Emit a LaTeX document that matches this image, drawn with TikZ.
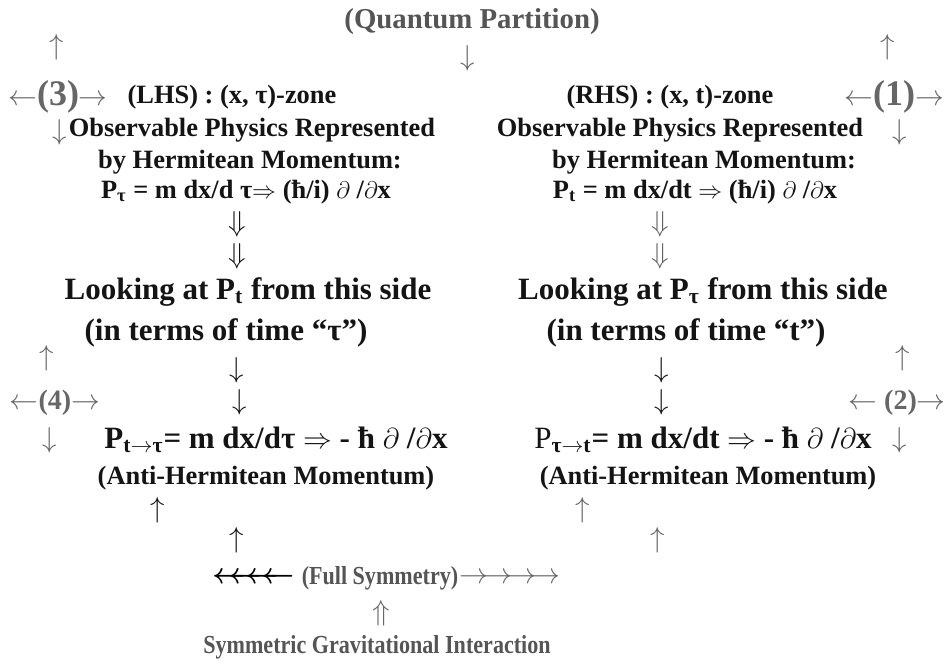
\documentclass[tikz,border=0pt]{standalone}
\usepackage{fontspec}
\setmainfont{Liberation Serif}
\usetikzlibrary{positioning}

\definecolor{ink}{HTML}{141414}
\definecolor{labelgrey}{HTML}{555555}
\definecolor{crossgrey}{HTML}{666666}

\begin{document}
\begin{tikzpicture}[
    x=0.5pt, y=-0.5pt,
    every node/.style={
        inner sep=0pt,
        text=ink
    },
    big/.style={
        font=\fontsize{15.5}{18}\selectfont\bfseries
    },
    mid/.style={
        font=\fontsize{13.2}{16}\selectfont\bfseries
    },
    head/.style={
        font=\fontsize{14.4}{17}\selectfont\bfseries,
        text=labelgrey
    },
    foot/.style={
        font=\fontsize{13}{14}\selectfont\bfseries\addfontfeatures{FakeStretch=0.85},
        text=labelgrey
    },
    sym/.style={
        font=\fontsize{14.5}{14}\selectfont
    },
    gsym/.style={
        font=\fontsize{14.5}{14}\selectfont,
        text=crossgrey
    },
    cross/.style={
        font=\fontsize{14}{14}\selectfont\bfseries,
        text=crossgrey
    }
]
\useasboundingbox[fill=white] (0,0) rectangle (945,664);

% Top
\node[head] (qp) at (472,22) {(Quantum Partition)};
\node[gsym] (qpdn) at (468,58) {$\downarrow$};

% Cross (3)
\node[gsym] (c3up) at (57,47) {$\uparrow$};
\node[cross] (c3) at (58,97) {$\leftarrow${\fontsize{18}{18}\selectfont(3)}$\rightarrow$};
\node[gsym] (c3dn) at (60,132) {$\downarrow$};

% Cross (1)
\node[gsym] (c1up) at (888,47) {$\uparrow$};
\node[cross] (c1) at (894,97) {$\leftarrow${\fontsize{18}{18}\selectfont(1)}$\rightarrow$};
\node[gsym] (c1dn) at (900,132) {$\downarrow$};

% LHS column
\node[mid] (lhs) at (232,97) {(LHS) : (x, τ)-zone};
\node[mid] (lobs) at (252,130) {Observable Physics Represented};
\node[mid] (lherm) at (250,162) {by Hermitean Momentum:};
\node[mid] (lp) at (246,192) {P\textsubscript{τ} = m dx/d τ$\Rightarrow$ (ħ/i) $\partial$ /$\partial$x};
\node[sym] (ld1) at (237,224) {$\Downarrow$};
\node[sym] (ld2) at (237,256) {$\Downarrow$};
\node[big] (llook) at (248,292) {Looking at P\textsubscript{t} from this side};
\node[big] (lterm) at (226,333) {(in terms of time “τ”)};
\node[sym] (ld3) at (237,370) {$\downarrow$};
\node[sym] (ld4) at (240,402) {$\downarrow$};
\node[big] (lanti) at (276,440) {P\textsubscript{t$\rightarrow$τ}= m dx/dτ $\Rightarrow$ - ħ $\partial$ /$\partial$x};
\node[mid] (lahm) at (266,478) {(Anti-Hermitean Momentum)};
\node[sym] (lu1) at (158,510) {$\uparrow$};
\node[sym] (lu2) at (237,540) {$\uparrow$};

% RHS column
\node[mid] (rhs) at (670,97) {(RHS) : (x, t)-zone};
\node[mid] (robs) at (680,130) {Observable Physics Represented};
\node[mid] (rherm) at (704,162) {by Hermitean Momentum:};
\node[mid] (rp) at (695,192) {P\textsubscript{t} = m dx/dt $\Rightarrow$ (ħ/i) $\partial$ /$\partial$x};
\node[gsym] (rd1) at (660,224) {$\Downarrow$};
\node[gsym] (rd2) at (660,256) {$\Downarrow$};
\node[big] (rlook) at (703,292) {Looking at P\textsubscript{τ} from this side};
\node[big] (rterm) at (686,333) {(in terms of time “t”)};
\node[sym] (rd3) at (662,370) {$\downarrow$};
\node[sym] (rd4) at (662,402) {$\downarrow$};
\node[big] (ranti) at (703,440) {{\mdseries P}\textsubscript{τ$\rightarrow$t}= m dx/dt $\Rightarrow$ - ħ $\partial$ /$\partial$x};
\node[mid] (rahm) at (708,478) {(Anti-Hermitean Momentum)};
\node[gsym] (ru1) at (583,510) {$\uparrow$};
\node[gsym] (ru2) at (658,540) {$\uparrow$};

% Cross (4)
\node[gsym] (c4up) at (47,358) {$\uparrow$};
\node[cross] (c4) at (55,403) {$\leftarrow$(4)$\rightarrow$};
\node[gsym] (c4dn) at (50,440) {$\downarrow$};

% Cross (2)
\node[gsym] (c2up) at (903,358) {$\uparrow$};
\node[cross] (c2) at (897,403) {$\leftarrow$ (2)$\rightarrow$};
\node[gsym] (c2dn) at (900,440) {$\downarrow$};

% Bottom
\node[foot] (fs) at (380,578) {(Full Symmetry)};
\node[sym, left=3pt of fs, text=black, font=\fontsize{14.5}{14}\selectfont\boldmath] (fsl) {$\leftarrow\!\!\!\leftarrow\!\!\!\leftarrow\!\!\!\leftarrow$};
\node[gsym, right=0pt of fs] (fsr) {$\rightarrow\!\rightarrow\!\rightarrow\!\rightarrow$};
\node[gsym] (su) at (381,613) {$\Uparrow$};
\node[foot] (sgi) at (377,647) {Symmetric Gravitational Interaction};

\end{tikzpicture}
\end{document}
